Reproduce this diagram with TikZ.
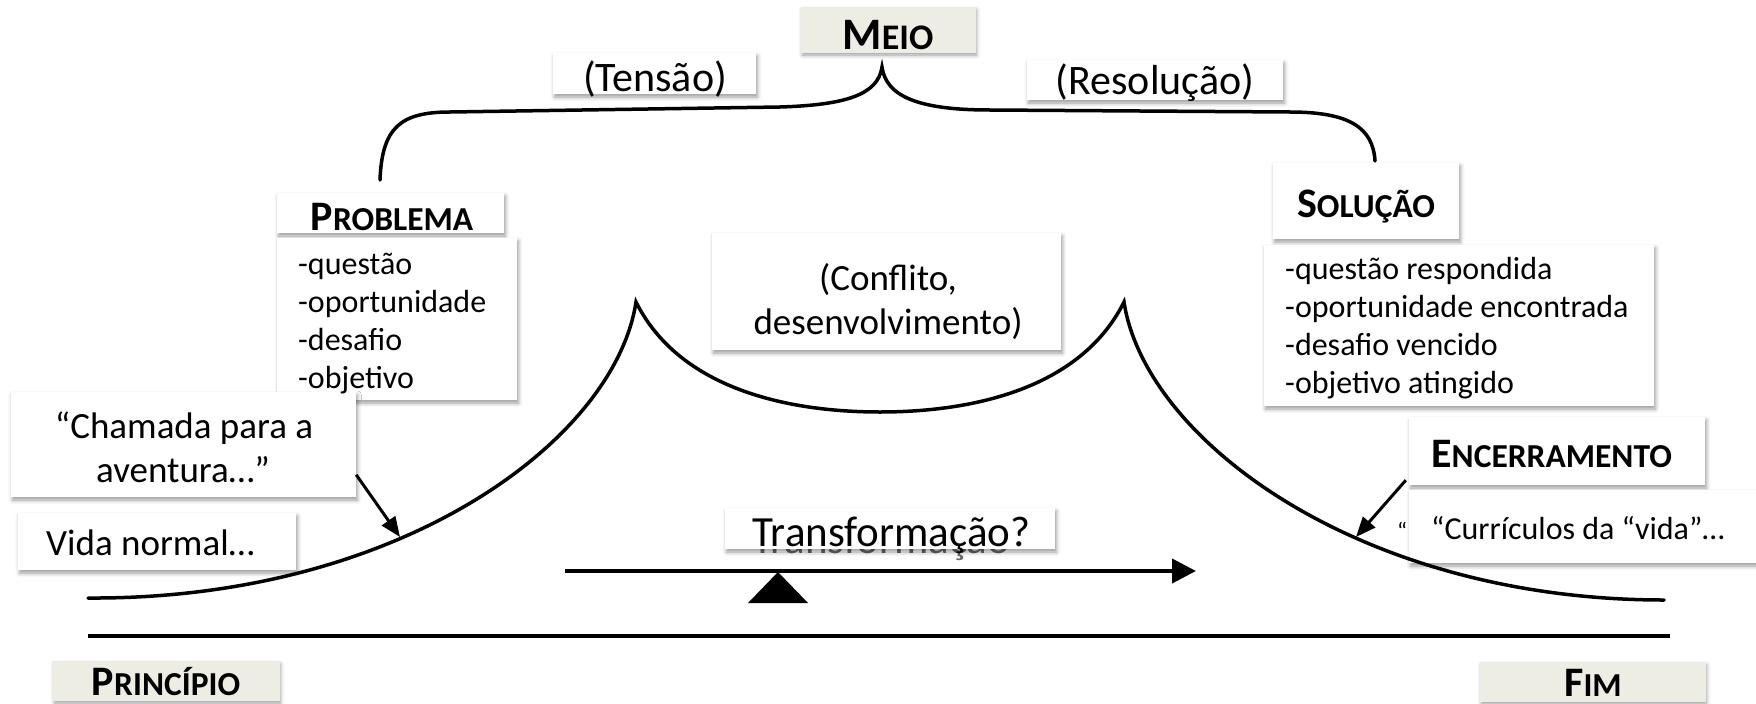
\documentclass[tikz,border=0pt]{standalone}
\usepackage{fontspec}
\setmainfont{Carlito}
\usetikzlibrary{arrows.meta,shadows.blur}
\definecolor{beige}{RGB}{238,237,228}
\newcommand\hsc[4]{{\fontsize{#1}{#1}\selectfont\bfseries #3}{\fontsize{#2}{#2}\selectfont\bfseries #4}}
\tikzset{
  box/.style={fill=white, inner sep=0pt, blur shadow={shadow xshift=1.5pt, shadow yshift=-3pt, shadow blur radius=4pt, shadow opacity=40}},
  tbox/.style={box, fill=beige, draw=black!8, line width=0.6pt},
  txt/.style={inner sep=0pt, anchor=base, font={\fontsize{#1}{#1}\selectfont}},
  txt/.default=32,
  ltxt/.style={txt=#1, anchor=base west},
  ltxt/.default=32,
  curve/.style={line width=3.5pt, line cap=round},
  arr/.style={line width=3pt, -{Triangle[length=20pt,width=16pt]}}
}
\begin{document}
\begin{tikzpicture}[x=1pt,y=-1pt]
\useasboundingbox (0,0) rectangle (1756,704);
% boxes
\node[tbox, minimum width=174pt, minimum height=45pt] (meio) at (888,29.5) {};
\node[box, minimum width=203pt, minimum height=41pt] (tensao) at (654.5,73.5) {};
\node[box, minimum width=256pt, minimum height=40pt] (resol) at (1155,80) {};
\node[box, minimum width=227pt, minimum height=40pt] (probl) at (390.5,213) {};
\node[box, minimum width=240pt, minimum height=162pt] (problist) at (397,319) {};
\node[box, minimum width=186pt, minimum height=76pt] (soluc) at (1366,201) {};
\node[box, minimum width=390pt, minimum height=161pt] (solulist) at (1459,325.5) {};
\node[box, minimum width=349pt, minimum height=117pt] (confl) at (886.5,291.5) {};
\node[box, minimum width=345pt, minimum height=105pt] (chamada) at (183.5,444.5) {};
\node[box, minimum width=278pt, minimum height=57pt] (vida) at (157,541.5) {};
\node[ltxt=43, text=black!60] (ghost) at (752,553) {Transformação};
\node[box, minimum width=330pt, minimum height=41pt] (transf) at (890,528.5) {};
\node[box, minimum width=296pt, minimum height=68pt] (encerr) at (1557,451) {};
\node[box, minimum width=360pt, minimum height=73pt] (curric) at (1589,526.5) {};
\node[tbox, minimum width=226pt, minimum height=39pt] (princ) at (166,680.5) {};
\node[tbox, minimum width=225pt, minimum height=39pt] (fim) at (1592.5,681.5) {};
% texts
\node[txt] (meiot) at (888,49) {\hsc{45}{36}{M}{EIO}};
\node[txt=42] (tensaot) at (655,91) {(Tensão)};
\node[txt=42] (resolt) at (1155,94) {(Resolução)};
\node[txt] (problt) at (392,230) {\hsc{42}{33.5}{P}{ROBLEMA}};
\node[txt] (solut) at (1366,217) {\hsc{42}{33.5}{S}{OLUÇÃO}};
\foreach \t [count=\i] in {-questão,-oportunidade,-desafio,-objetivo}
  \node[ltxt=32] (pl\i) at (298,236+38*\i) {\t};
\foreach \t [count=\i] in {-questão respondida,-oportunidade encontrada,-desafio vencido,-objetivo atingido}
  \node[ltxt=32] (sl\i) at (1285,241+38*\i) {\t};
\node[txt=37] (cf1) at (888,290) {(Conflito,};
\node[txt=37] (cf2) at (888,334) {desenvolvimento)};
\node[txt=37] (ch1) at (184,438) {“Chamada para a};
\node[txt=37] (ch2) at (183,482) {aventura…”};
\node[ltxt=37] (vidat) at (46,555) {Vida normal…};
\node[txt=43] (transft) at (891.5,546) {Transformação?};
\node[ltxt] (encerrt) at (1431,467) {\hsc{42}{33.5}{E}{NCERRAMENTO}};
\node[ltxt=32] (curt) at (1431,539) {“Currículos da “vida”…};
\node[ltxt=24] (stray) at (1397,539) {“};
\node[txt] (princt) at (166,695) {\hsc{42}{33.5}{P}{RINCÍPIO}};
\node[txt] (fimt) at (1593,696) {\hsc{42}{33.5}{F}{IM}};
% curves
\draw[curve] (88,598) .. controls (400,600) and (615,440) .. (636,302)
  .. controls (680,390) and (790,412) .. (880,412)
  .. controls (970,412) and (1080,390) .. (1124,302)
  .. controls (1145,440) and (1360,600) .. (1664,600);
\draw[curve] (380,180) .. controls (382,128) and (400,112) .. (450,112) -- (780,107)
  .. controls (845,105) and (878,95) .. (882,67)
  .. controls (886,95) and (915,110) .. (990,110) -- (1290,112)
  .. controls (1350,112) and (1373,128) .. (1375,161);
% baseline and arrow
\draw[line width=4pt] (88,636) -- (1670,636);
\coordinate (ta) at (565,571);
\coordinate (tb) at (1196,571);
\draw[line width=4pt, -{Triangle[length=24pt,width=24pt]}] (ta) -- (tb);
\fill (778,572) -- (808,603) -- (748,603) -- cycle;
% pointer arrows
\path (chamada.north east) ++(0,83) coordinate (chs);
\coordinate (cht) at (400,537);
\draw[arr] (chs) -- (cht);
\path (encerr.south west) ++(-3,-5) coordinate (ens);
\coordinate (ent) at (1356,537);
\draw[arr] (ens) -- (ent);
\end{tikzpicture}
\end{document}
